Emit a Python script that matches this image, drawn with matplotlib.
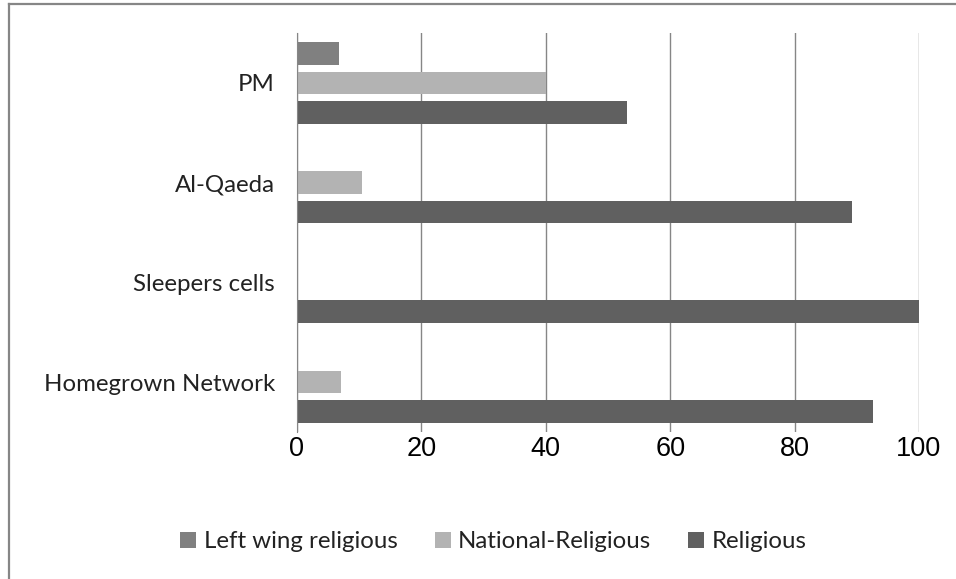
import matplotlib.pyplot as plt
from matplotlib.lines import Line2D
import numpy as np

# data, bottom to top on the chart
categories = ['Homegrown Network', 'Sleepers cells', 'Al-Qaeda', 'PM']
left_wing = [0, 0, 0, 6.7]
national = [7.1, 0, 10.4, 40]
religious = [92.6, 100, 89.3, 53.1]
series_names = ['Left wing religious', 'National-Religious', 'Religious']
colors = ['#808080', '#b3b3b3', '#606060']
x_ticks = [0, 20, 40, 60, 80, 100]

W, H = 956, 579
fig = plt.figure(figsize=(W / 100, H / 100), dpi=100)
ax = fig.add_axes([297 / W, 1 - 432 / H, (919 - 297) / W, (432 - 33) / H])

y = np.arange(len(categories))
step = 0.295
h = 0.228
ax.barh(y + step, left_wing, height=h, color=colors[0], label=series_names[0], zorder=3)
ax.barh(y, national, height=h, color=colors[1], label=series_names[1], zorder=3)
ax.barh(y - step, religious, height=h, color=colors[2], label=series_names[2], zorder=3)

ax.set_xlim(0, 100)
ax.set_ylim(-0.5, 3.5)
ax.set_xticks(x_ticks)
ax.set_xticklabels([str(t) for t in x_ticks], family='Liberation Sans', fontsize=19.5)
ax.set_yticks(y)
ax.set_yticklabels(categories, family='Lato', fontsize=17.3, color='#222222')
ax.tick_params(axis='x', length=0, pad=3)
ax.tick_params(axis='y', length=0, pad=16)

ax.grid(axis='x', color='#868686', linewidth=1, zorder=0)
for s in ['top', 'right', 'bottom']:
    ax.spines[s].set_visible(False)
ax.spines['left'].set_color('#868686')
ax.spines['left'].set_zorder(4)

fs = 17.3
leg = fig.legend(loc='center', bbox_to_anchor=(493.5 / W, 1 - 542 / H), ncol=3,
                 frameon=False, prop={'family': 'Lato', 'size': fs},
                 handlelength=11.5 / fs, handleheight=11.5 / fs, handletextpad=0.3,
                 columnspacing=1.55)
for t in leg.get_texts():
    t.set_color('#222222')

# partial frame of the original screenshot
fig.add_artist(Line2D([8.5 / W, 1], [1 - 3.5 / H, 1 - 3.5 / H], color='#868686', lw=1.6))
fig.add_artist(Line2D([8.5 / W, 8.5 / W], [0, 1 - 3.5 / H], color='#868686', lw=1.6))

fig.savefig('out.png', dpi=100)
